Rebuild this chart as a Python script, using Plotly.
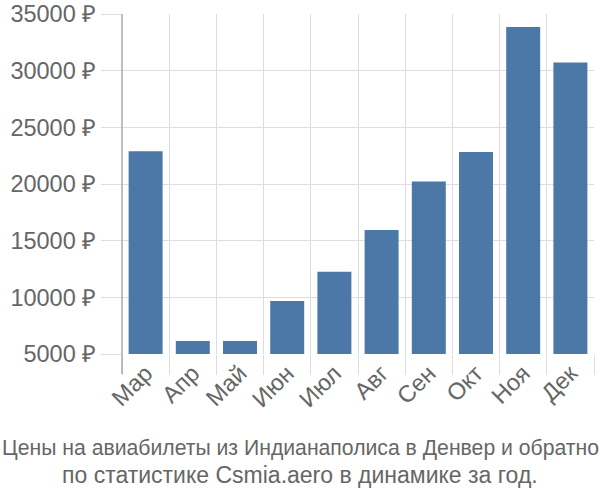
import plotly.graph_objects as go

months = ["Мар", "Апр", "Май", "Июн", "Июл", "Авг", "Сен", "Окт", "Ноя", "Дек"]
prices = [22900, 6150, 6150, 9680, 12250, 15950, 20220, 22830, 33850, 30730]
y_ticks = [5000, 10000, 15000, 20000, 25000, 30000, 35000]
y_tick_labels = [f"{v} ₽" for v in y_ticks]
title_lines = ["Цены на авиабилеты из Индианаполиса в Денвер и обратно",
               "по статистике Csmia.aero в динамике за год."]

FONT = "Liberation Sans"
TXT = "#666666"
GRID = "#dddddd"

fig = go.Figure(go.Bar(x=months, y=prices, marker=dict(color="#4c78a8", line=dict(width=0))))

fig.update_layout(
    width=600, height=500,
    margin=dict(l=122, r=6, t=14, b=146),
    paper_bgcolor="white", plot_bgcolor="white",
    bargap=0.28,
    showlegend=False,
    font=dict(family=FONT, color=TXT),
)
fig.update_xaxes(
    automargin=False,
    tickson="boundaries", showgrid=True, gridcolor=GRID, gridwidth=1,
    ticks="outside", ticklen=20, tickcolor=GRID, tickwidth=1,
    tickangle=-45, tickfont=dict(size=23.5, color=TXT, family=FONT),
    showline=False, zeroline=False,
)
fig.update_yaxes(
    automargin=False,
    range=[5000, 35000], tickvals=y_ticks, ticktext=y_tick_labels,
    showgrid=True, gridcolor=GRID, gridwidth=1,
    ticks="outside", ticklen=20, tickcolor=GRID, tickwidth=1,
    tickfont=dict(size=23.5, color=TXT, family=FONT),
    showline=False, zeroline=False,
)
fig.add_shape(type="line", xref="paper", yref="paper", x0=0, x1=0, y0=-20/340, y1=1,
              line=dict(color="#aaaaaa", width=1.5))

title_centers_px = [448, 475]
title_sizes = [21.2, 23]
for line, cy, sz in zip(title_lines, title_centers_px, title_sizes):
    fig.add_annotation(text=line, xref="paper", yref="paper",
                       x=(300 - 122) / 472, xanchor="center",
                       y=1 - (cy - 14) / 340, yanchor="middle",
                       showarrow=False, align="center",
                       font=dict(size=sz, color=TXT, family=FONT))

fig.write_html("out.html")
